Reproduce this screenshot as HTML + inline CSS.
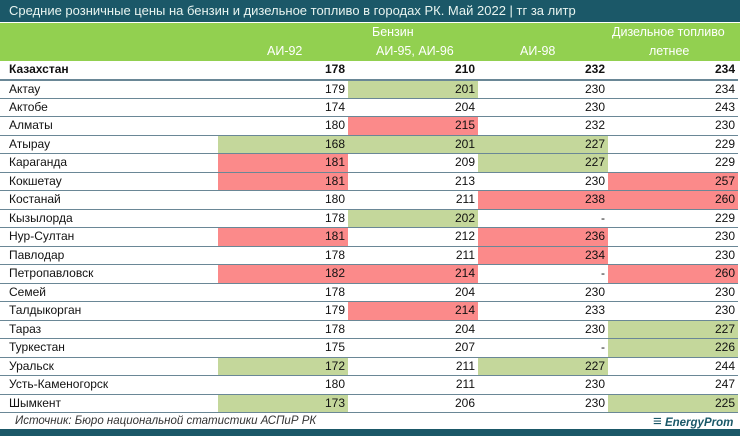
<!DOCTYPE html>
<html><head><meta charset="utf-8"><style>
body{margin:0;width:740px;height:436px;background:#fff;font-family:"Liberation Sans",sans-serif;position:relative;overflow:hidden;color:#111}
.title{position:absolute;left:0;top:0;width:740px;height:22px;background:#1b5868;color:#e8f4f0;font-size:13px;line-height:22px;padding-left:9px;box-sizing:border-box}
.hdr{position:absolute;left:0;top:23px;width:740px;height:38px;background:#92d050;color:#fff;font-size:12.5px}
.hdr div{position:absolute}
table{position:absolute;left:0;top:61px;border-collapse:collapse;font-size:12px}
td{height:18.5px;padding:0;box-sizing:border-box;border-bottom:1px solid #6a8796;line-height:17px}
td.n{width:218px;padding-left:9px}
td.v{width:130px;text-align:right;padding-right:3px}
tr.k td{font-weight:bold;border-bottom:2px solid #6a8796}
.g{background:#c4d79b}.r{background:#fb8a8a}
.src{position:absolute;left:15px;top:415px;font-size:11.5px;font-style:italic;color:#333}
.logo{position:absolute;left:653px;top:413px;font-size:11.5px;font-style:italic;font-weight:bold;color:#1b5868}
.bot{position:absolute;left:0;top:429px;width:740px;height:7px;background:#1b5868}
</style></head><body>
<div class="title">Средние розничные цены на бензин и дизельное топливо в городах РК. Май 2022 | тг за литр</div>
<div class="hdr">
<div style="left:372px;top:2px;width:100px">Бензин</div>
<div style="left:612px;top:2px">Дизельное топливо</div>
<div style="left:267px;top:21px">АИ-92</div>
<div style="left:376px;top:21px">АИ-95, АИ-96</div>
<div style="left:520px;top:21px">АИ-98</div>
<div style="left:649px;top:21px">летнее</div>
</div>
<table>
<tr class="k"><td class="n">Казахстан</td><td class="v">178</td><td class="v">210</td><td class="v">232</td><td class="v">234</td></tr>
<tr><td class="n">Актау</td><td class="v">179</td><td class="v g">201</td><td class="v">230</td><td class="v">234</td></tr>
<tr><td class="n">Актобе</td><td class="v">174</td><td class="v">204</td><td class="v">230</td><td class="v">243</td></tr>
<tr><td class="n">Алматы</td><td class="v">180</td><td class="v r">215</td><td class="v">232</td><td class="v">230</td></tr>
<tr><td class="n">Атырау</td><td class="v g">168</td><td class="v g">201</td><td class="v g">227</td><td class="v">229</td></tr>
<tr><td class="n">Караганда</td><td class="v r">181</td><td class="v">209</td><td class="v g">227</td><td class="v">229</td></tr>
<tr><td class="n">Кокшетау</td><td class="v r">181</td><td class="v">213</td><td class="v">230</td><td class="v r">257</td></tr>
<tr><td class="n">Костанай</td><td class="v">180</td><td class="v">211</td><td class="v r">238</td><td class="v r">260</td></tr>
<tr><td class="n">Кызылорда</td><td class="v">178</td><td class="v g">202</td><td class="v">-</td><td class="v">229</td></tr>
<tr><td class="n">Нур-Султан</td><td class="v r">181</td><td class="v">212</td><td class="v r">236</td><td class="v">230</td></tr>
<tr><td class="n">Павлодар</td><td class="v">178</td><td class="v">211</td><td class="v r">234</td><td class="v">230</td></tr>
<tr><td class="n">Петропавловск</td><td class="v r">182</td><td class="v r">214</td><td class="v">-</td><td class="v r">260</td></tr>
<tr><td class="n">Семей</td><td class="v">178</td><td class="v">204</td><td class="v">230</td><td class="v">230</td></tr>
<tr><td class="n">Талдыкорган</td><td class="v">179</td><td class="v r">214</td><td class="v">233</td><td class="v">230</td></tr>
<tr><td class="n">Тараз</td><td class="v">178</td><td class="v">204</td><td class="v">230</td><td class="v g">227</td></tr>
<tr><td class="n">Туркестан</td><td class="v">175</td><td class="v">207</td><td class="v">-</td><td class="v g">226</td></tr>
<tr><td class="n">Уральск</td><td class="v g">172</td><td class="v">211</td><td class="v g">227</td><td class="v">244</td></tr>
<tr><td class="n">Усть-Каменогорск</td><td class="v">180</td><td class="v">211</td><td class="v">230</td><td class="v">247</td></tr>
<tr><td class="n">Шымкент</td><td class="v g">173</td><td class="v">206</td><td class="v">230</td><td class="v g">225</td></tr>
</table>
<div class="src">Источник: Бюро национальной статистики АСПиР РК</div>
<div class="logo"><span style="font-size:15px">≡</span> EnergyProm</div>
<div class="bot"></div>
</body></html>
